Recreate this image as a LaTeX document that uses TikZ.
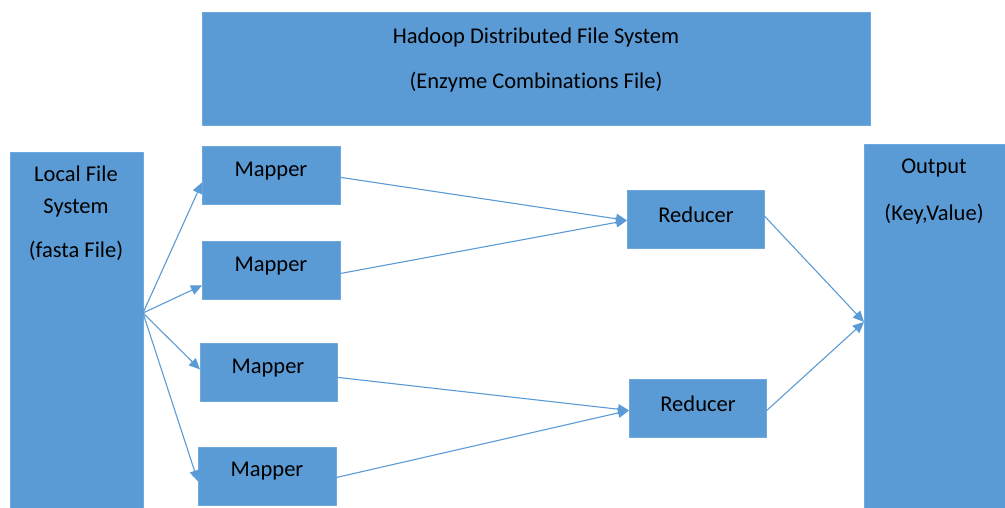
\documentclass[tikz,border=0pt]{standalone}
\usepackage{fontspec}
\setmainfont{Carlito}[Ligatures=NoCommon]
\usetikzlibrary{arrows.meta, positioning, calc}

\definecolor{boxblue}{HTML}{5B9BD5}
\definecolor{lineblue}{HTML}{6FA8DC}

\begin{document}
\begin{tikzpicture}[x=1pt, y=-1pt, >={Triangle[length=11pt, width=10pt]}, line join=round]
	\tikzset{
		blk/.style={draw=lineblue, line width=0.8pt, fill=boxblue, inner sep=0pt, anchor=north west},
		txt/.style={font=\fontsize{22.5}{26}\selectfont, text=black, inner sep=0pt},
		flow/.style={->, draw=boxblue, line width=1.1pt}
	}
	
	\useasboundingbox (0,0) rectangle (1005,507);
	
	% storage
	\node[blk, minimum width=668pt, minimum height=113pt] (hdfs) at (202,12) {};
	\node[txt] (hdfsa) at (536,37) {Hadoop Distributed File System};
	\node[txt] (hdfsb) at (536,82) {(Enzyme Combinations File)};
	
	\node[blk, minimum width=133pt, minimum height=356pt] (local) at (10,152) {};
	\node[txt, align=center] (loca) at (76,191) {Local File\\[6pt]System};
	\node[txt] (locb) at (76,251) {(fasta File)};
	
	\node[blk, minimum width=141pt, minimum height=364pt] (out) at (864,144) {};
	\node[txt] (outa) at (934,168) {Output};
	\node[txt] (outb) at (934,214) {(Key,Value)};
	
	% mappers and reducers
	\node[blk, minimum width=138pt, minimum height=58pt] (m1) at (202,146) {};
	\node[blk, minimum width=138pt, minimum height=58pt] (m2) at (202,241) {};
	\node[blk, minimum width=137pt, minimum height=58pt] (m3) at (200,343) {};
	\node[blk, minimum width=138pt, minimum height=58pt] (m4) at (198,447) {};
	\node[txt] (m1t) at (271,171) {Mapper};
	\node[txt] (m2t) at (271,266) {Mapper};
	\node[txt] (m3t) at (268,368) {Mapper};
	\node[txt] (m4t) at (267,471) {Mapper};
	
	\node[blk, minimum width=137pt, minimum height=58pt] (r1) at (627,190) {};
	\node[blk, minimum width=137pt, minimum height=58pt] (r2) at (629,379) {};
	\node[txt] (r1t) at (696,215) {Reducer};
	\node[txt] (r2t) at (698,404) {Reducer};
	
	\coordinate (hub) at (143,313);
	\coordinate (sink) at (864,322);
	
	% arrows
	\draw[flow] (hub) -- ([yshift=-7pt]m1.west);
	\draw[flow] (hub) -- ([yshift=-15pt]m2.west);
	\draw[flow] (hub) -- ([yshift=3pt]m3.west);
	\draw[flow] (hub) -- ([yshift=-5pt]m4.west);
	
	\draw[flow] ([yshift=-2pt]m1.east) -- ([yshift=-1pt]r1.west);
	\draw[flow] ([yshift=-3pt]m2.east) -- ([yshift=-1pt]r1.west);
	\draw[flow] ([yshift=-5pt]m3.east) -- ([yshift=-2pt]r2.west);
	\draw[flow] ([yshift=-1pt]m4.east) -- ([yshift=-2pt]r2.west);
	
	\draw[flow] ([yshift=3pt]r1.east) -- (sink);
	\draw[flow] ([yshift=-2pt]r2.east) -- (sink);
	
\end{tikzpicture}
\end{document}
